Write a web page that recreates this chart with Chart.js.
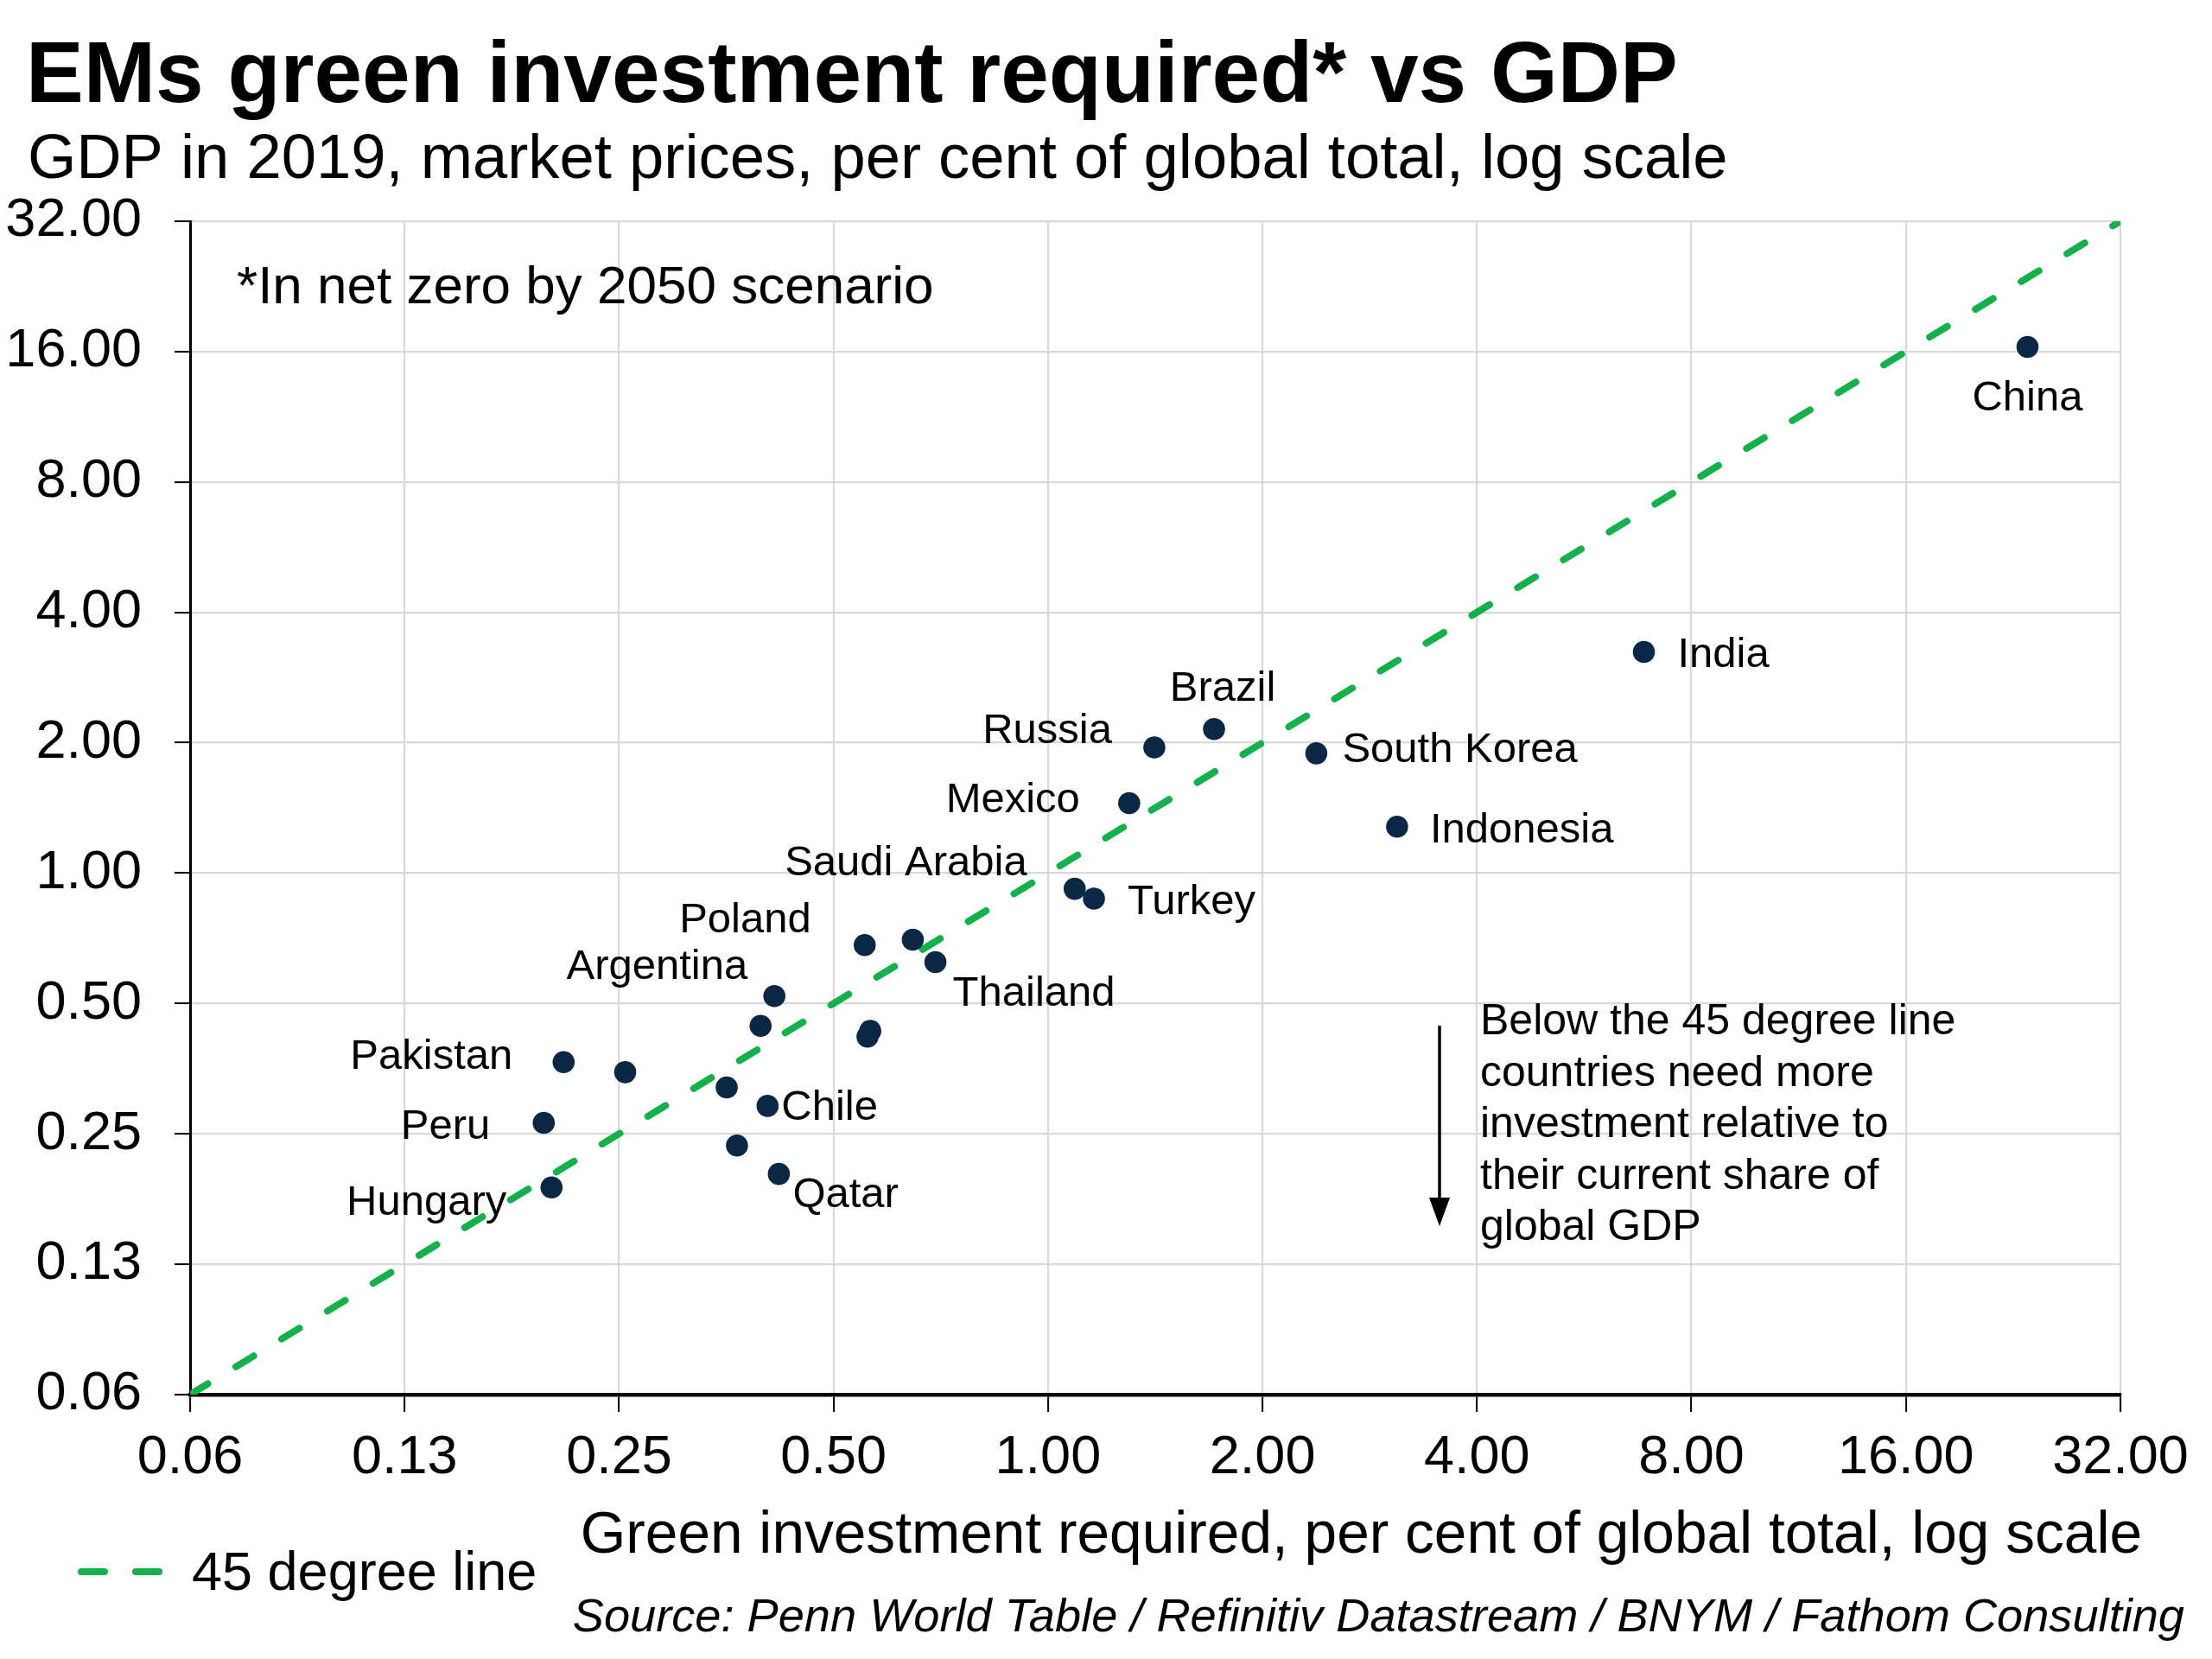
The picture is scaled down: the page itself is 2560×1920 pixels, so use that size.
<!DOCTYPE html>
<html>
<head>
<meta charset="utf-8">
<title>EMs green investment required vs GDP</title>
<script src="https://cdn.jsdelivr.net/npm/chart.js@4.4.1/dist/chart.umd.min.js"></script>
<style>
  html, body { margin: 0; padding: 0; background: #fff; }
  #wrap { width: 2560px; height: 1920px; position: relative; }
</style>
</head>
<body>
<div id="wrap"><canvas id="chart"></canvas></div>
<script>
// values, per cent of global total
const countries = ["China", "India", "Brazil", "Russia", "South Korea", "Mexico", "Indonesia",
  "Saudi Arabia", "Turkey", "Poland", "", "Thailand", "Argentina", "", "", "",
  "Pakistan", "", "", "Chile", "Peru", "", "Qatar", "Hungary"];
const investment = [23.7, 6.86, 1.71, 1.41, 2.38, 1.30, 3.09,
  1.09, 1.16, 0.553, 0.646, 0.695, 0.413, 0.395, 0.563, 0.558,
  0.209, 0.255, 0.354, 0.404, 0.196, 0.366, 0.419, 0.201];
const gdp = [16.4, 3.24, 2.15, 1.95, 1.89, 1.45, 1.28,
  0.92, 0.873, 0.682, 0.702, 0.623, 0.520, 0.444, 0.432, 0.419,
  0.366, 0.347, 0.320, 0.290, 0.265, 0.235, 0.202, 0.188];
const tickValues = [0.0625, 0.125, 0.25, 0.5, 1, 2, 4, 8, 16, 32];
const diagonal = [0.0625, 32];

const FONT = '"Liberation Sans", Arial, Helvetica, sans-serif';
const NAVY = "#0a2846";
const GREEN = "#13b04b";

// where each country name sits relative to its dot (pixels)
const labelPlacement = {
  "China": { dx: 0, dy: 73, align: "center" },
  "India": { dx: 39, dy: 17, align: "left" },
  "Brazil": { dx: 10, dy: -33, align: "center" },
  "Russia": { dx: -49, dy: -5, align: "right" },
  "South Korea": { dx: 30, dy: 10, align: "left" },
  "Mexico": { dx: -57, dy: 10, align: "right" },
  "Indonesia": { dx: 38, dy: 18, align: "left" },
  "Saudi Arabia": { dx: -55, dy: -16, align: "right" },
  "Turkey": { dx: 39, dy: 18, align: "left" },
  "Poland": { dx: -62, dy: -15, align: "right" },
  "Thailand": { dx: 20, dy: 51, align: "left" },
  "Argentina": { dx: -31, dy: -20, align: "right" },
  "Pakistan": { dx: -59, dy: 8, align: "right" },
  "Chile": { dx: 16, dy: 16, align: "left" },
  "Peru": { dx: -62, dy: 18, align: "right" },
  "Qatar": { dx: 16, dy: 38, align: "left" },
  "Hungary": { dx: -52, dy: 32, align: "right" }
};

const noteLines = [
  "Below the 45 degree line",
  "countries need more",
  "investment relative to",
  "their current share of",
  "global GDP"
];

const annotations = {
  id: "annotations",
  afterDatasetsDraw(chart) {
    const { ctx, scales: { x, y } } = chart;
    ctx.save();
    ctx.fillStyle = "#000";
    ctx.textBaseline = "alphabetic";

    ctx.font = "49px " + FONT;
    countries.forEach((name, i) => {
      const p = labelPlacement[name];
      if (!p) return;
      ctx.textAlign = p.align;
      ctx.fillText(name, x.getPixelForValue(investment[i]) + p.dx, y.getPixelForValue(gdp[i]) + p.dy);
    });

    ctx.textAlign = "left";
    ctx.font = "62px " + FONT;
    ctx.fillText("*In net zero by 2050 scenario", 274, 351);

    ctx.font = "50px " + FONT;
    noteLines.forEach((line, i) => ctx.fillText(line, 1713, 1197 + i * 59.6));

    // arrow
    ctx.strokeStyle = "#000";
    ctx.lineWidth = 3.5;
    ctx.beginPath();
    ctx.moveTo(1666, 1187);
    ctx.lineTo(1666, 1392);
    ctx.stroke();
    ctx.beginPath();
    ctx.moveTo(1654, 1386);
    ctx.lineTo(1678, 1386);
    ctx.lineTo(1666, 1419);
    ctx.closePath();
    ctx.fill();
    ctx.restore();
  },
  afterDraw(chart) {
    const { ctx } = chart;
    ctx.save();
    ctx.fillStyle = "#000";
    ctx.textBaseline = "alphabetic";

    // titles
    ctx.textAlign = "left";
    ctx.font = "bold 100px " + FONT;
    ctx.fillText("EMs green investment required* vs GDP", 30, 118);
    ctx.font = "72.4px " + FONT;
    ctx.fillText("GDP in 2019, market prices, per cent of global total, log scale", 32, 206);

    ctx.textAlign = "right";
    ctx.font = "67.6px " + FONT;
    ctx.fillText("Green investment required, per cent of global total, log scale", 2479, 1797);

    ctx.font = "italic 54.2px " + FONT;
    ctx.fillText("Source: Penn World Table / Refinitiv Datastream / BNYM / Fathom Consulting", 2528, 1888);

    // legend
    ctx.strokeStyle = GREEN;
    ctx.lineWidth = 8;
    ctx.lineCap = "round";
    ctx.beginPath();
    ctx.moveTo(94, 1819); ctx.lineTo(121, 1819);
    ctx.moveTo(157, 1819); ctx.lineTo(184, 1819);
    ctx.stroke();
    ctx.textAlign = "left";
    ctx.font = "63px " + FONT;
    ctx.fillText("45 degree line", 222, 1840);
    ctx.restore();
  }
};

function fixTicks(scale) {
  scale.ticks = tickValues.map(v => ({ value: v }));
}

function init() {
  Chart.defaults.font.family = FONT;
  Chart.defaults.color = "#000";

  new Chart(document.getElementById("chart"), {
    type: "scatter",
    data: {
      datasets: [
        {
          label: "Countries",
          data: investment.map((v, i) => ({ x: v, y: gdp[i] })),
          backgroundColor: NAVY,
          borderWidth: 0,
          pointRadius: 12.8,
          pointHoverRadius: 12.8
        },
        {
          type: "line",
          label: "45 degree line",
          data: diagonal.map(v => ({ x: v, y: v })),
          borderColor: GREEN,
          borderWidth: 8,
          borderDash: [24, 38],
          borderCapStyle: "round",
          pointRadius: 0,
          fill: false
        }
      ]
    },
    options: {
      responsive: true,
      maintainAspectRatio: false,
      animation: false,
      events: [],
      layout: { padding: { left: 0, right: 106, top: 256, bottom: 0 } },
      plugins: {
        legend: { display: false },
        tooltip: { enabled: false },
        title: { display: false }
      },
      scales: {
        x: {
          type: "logarithmic",
          min: 0.0625,
          max: 32,
          afterBuildTicks: fixTicks,
          afterFit: scale => { scale.height = 306; },
          border: { color: "#000", width: 4.5 },
          grid: { color: "#d9d9d9", lineWidth: 2.2, tickColor: "#000", tickWidth: 2, tickLength: 20 },
          ticks: {
            autoSkip: false,
            maxRotation: 0,
            padding: 16,
            color: "#000",
            font: { size: 63 },
            callback: v => Number(v).toFixed(2)
          }
        },
        y: {
          type: "logarithmic",
          min: 0.0625,
          max: 32,
          afterBuildTicks: fixTicks,
          afterFit: scale => { scale.width = 220; },
          border: { color: "#000", width: 3 },
          grid: { color: "#d9d9d9", lineWidth: 2.2, tickColor: "#000", tickWidth: 2, tickLength: 18 },
          ticks: {
            autoSkip: false,
            padding: 38,
            color: "#000",
            font: { size: 63 },
            callback: v => Number(v).toFixed(2)
          }
        }
      }
    },
    plugins: [annotations]
  });
}

document.addEventListener("DOMContentLoaded", init);
</script>
</body>
</html>
